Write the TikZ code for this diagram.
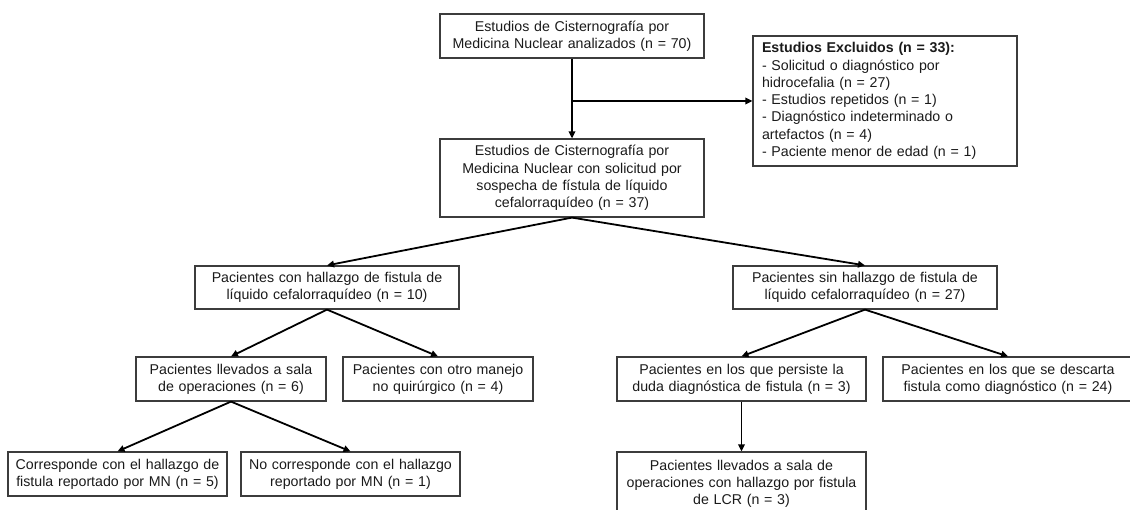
\documentclass[tikz,border=0pt]{standalone}
\usepackage{fontspec}
\setmainfont{Liberation Sans}
\usetikzlibrary{arrows.meta}
\definecolor{boxgray}{HTML}{3C3C3C}
\definecolor{txt}{HTML}{1A1A1A}
\begin{document}
\begin{tikzpicture}[x=1pt,y=-1pt,
  box/.style={draw=boxgray, line width=1.2pt, inner xsep=4pt, inner ysep=0pt,
    align=center, text=txt, font=\fontsize{14.2}{17.3}\selectfont},
  arr/.style={draw=black, line width=1.8pt, -{Triangle[length=7pt,width=6.5pt]}},
  ]
\useasboundingbox (0,0) rectangle (1130,510);

\node[box, text width=256pt, minimum height=44pt] (A) at (572,36)
  {Estudios de Cisternografía por\\Medicina Nuclear analizados (n = 70)};
\node[box, align=left, inner xsep=9pt, text width=246pt, minimum height=130pt] (E) at (885,101)
  {\textbf{Estudios Excluidos (n = 33):}\\- Solicitud o diagnóstico por\\hidrocefalia (n = 27)\\- Estudios repetidos (n = 1)\\- Diagnóstico indeterminado o\\artefactos (n = 4)\\- Paciente menor de edad (n = 1)};
\node[box, text width=256pt, minimum height=78pt] (B) at (572,178)
  {Estudios de Cisternografía por\\Medicina Nuclear con solicitud por\\sospecha de fístula de líquido\\cefalorraquídeo (n = 37)};

\node[box, text width=256pt, minimum height=43pt] (L) at (327,287.5)
  {Pacientes con hallazgo de fistula de\\líquido cefalorraquídeo (n = 10)};
\node[box, text width=256pt, minimum height=43pt] (R) at (865,287.5)
  {Pacientes sin hallazgo de fistula de\\líquido cefalorraquídeo (n = 27)};

\node[box, text width=182pt, minimum height=44pt] (LS) at (231,379)
  {Pacientes llevados a sala\\de operaciones (n = 6)};
\node[box, text width=182pt, minimum height=44pt] (LO) at (438,379)
  {Pacientes con otro manejo\\no quirúrgico (n = 4)};
\node[box, text width=241pt, minimum height=44pt] (RP) at (741.5,379)
  {Pacientes en los que persiste la\\duda diagnóstica de fistula (n = 3)};
\node[box, text width=242pt, minimum height=44pt] (RD) at (1008,379)
  {Pacientes en los que se descarta\\fistula como diagnóstico (n = 24)};

\node[box, text width=211pt, minimum height=44pt] (C1) at (117.5,474)
  {Corresponde con el hallazgo de\\fistula reportado por MN (n = 5)};
\node[box, text width=211pt, minimum height=44pt] (C2) at (350.5,474)
  {No corresponde con el hallazgo\\reportado por MN (n = 1)};
\node[box, text width=241pt, minimum height=64pt] (RL) at (741.5,484)
  {Pacientes llevados a sala de\\operaciones con hallazgo por fistula\\de LCR (n = 3)};

\coordinate (J) at (A.south |- E.west);
\draw[arr] (A.south) -- (B.north);
\draw[arr] (J) -- (E.west);
\draw[arr] (B.south) -- (L.north);
\draw[arr] (B.south) -- (R.north);
\draw[arr] (L.south) -- (LS.north);
\draw[arr] (L.south) -- (LO.north);
\draw[arr] (R.south) -- (RP.north);
\draw[arr] (R.south) -- (RD.north);
\draw[arr] (LS.south) -- (C1.north);
\draw[arr] (LS.south) -- (C2.north);
\draw[arr] (RP.south) -- (RL.north);
\end{tikzpicture}
\end{document}
